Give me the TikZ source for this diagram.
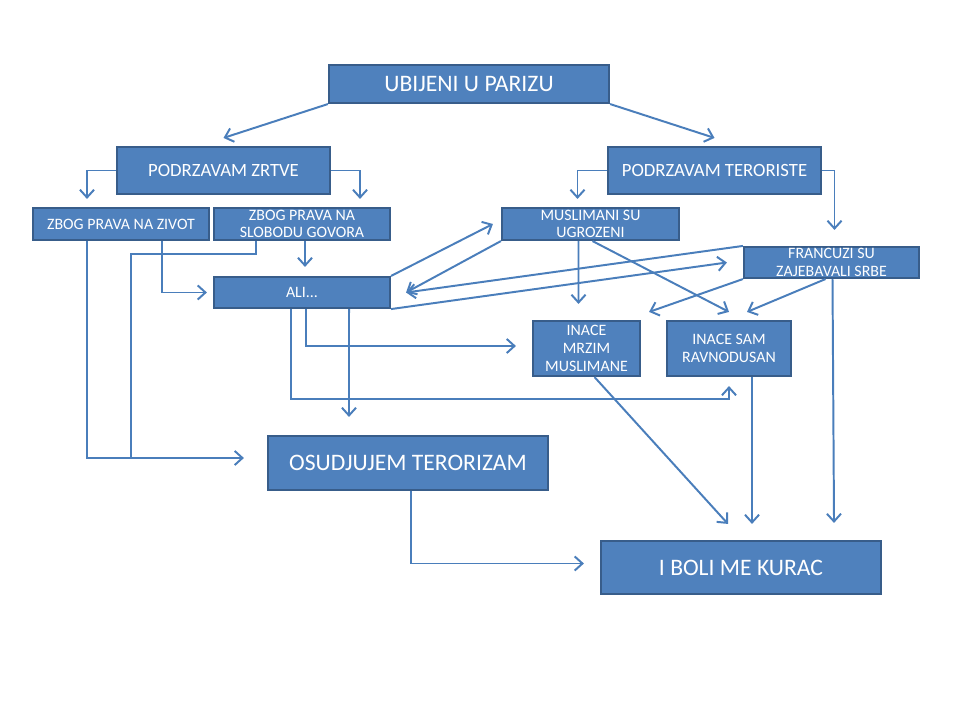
\documentclass[tikz,border=0pt]{standalone}
\usepackage{fontspec}
\setmainfont{Carlito}
\usepackage{tikz}
\usetikzlibrary{arrows.meta}
\usepackage{xcolor}
\definecolor{boxFill}{RGB}{79, 129, 189}
\definecolor{boxEdge}{RGB}{56, 93, 138}
\definecolor{linkLine}{RGB}{74, 126, 187}

\begin{document}
\begin{tikzpicture}[x=0.025cm, y=-0.025cm, >={Straight Barb[length=5.5pt, width=10pt]},
    box/.style={draw=boxEdge, line width=1.5pt, fill=boxFill, text=white, inner sep=0pt, align=center},
    bigbox/.style={box, minimum width=7cm, font=\fontsize{16.8}{18}\selectfont},
    midbox/.style={box, minimum width=5.325cm, minimum height=1.175cm, font=\fontsize{13.3}{14}\selectfont},
    smallbox/.style={box, minimum width=4.4cm, minimum height=0.8cm, font=\fontsize{11.3}{12.6}\selectfont},
    link/.style={draw=linkLine, line width=1.4pt},
    arr/.style={link, ->}]
  \useasboundingbox (0,0) rectangle (960,720);

  % boxes
  \node[bigbox, minimum height=0.95cm] (top) at (469, 84) {UBIJENI U PARIZU};
  \node[midbox] (zrtve) at (223.5, 170.5) {PODRZAVAM ZRTVE};
  \node[midbox] (teror) at (714.5, 170.5) {PODRZAVAM TERORISTE};

  \node[smallbox] (zivot) at (121, 224) {ZBOG PRAVA NA ZIVOT};
  \node[smallbox] (govor) at (302, 224) {ZBOG PRAVA NA\\SLOBODU GOVORA};
  \node[smallbox, minimum height=0.775cm] (ali) at (302, 292.5) {ALI...};
  \node[smallbox, minimum width=4.425cm] (musl) at (590.5, 224) {MUSLIMANI SU\\UGROZENI};
  \node[smallbox, minimum width=4.375cm, minimum height=0.775cm] (franc) at (831.5, 262.5) {FRANCUZI SU\\ZAJEBAVALI SRBE};

  \node[smallbox, minimum width=2.675cm, minimum height=1.375cm] (mrzim) at (586.5, 348.5) {INACE\\MRZIM\\MUSLIMANE};
  \node[smallbox, minimum width=3.1cm, minimum height=1.375cm] (ravno) at (729, 348.5) {INACE SAM\\RAVNODUSAN};

  \node[bigbox, minimum height=1.35cm] (osud) at (408, 463) {OSUDJUJEM TERORIZAM};
  \node[bigbox, minimum height=1.325cm] (boli) at (741, 567.5) {I BOLI ME KURAC};

  % top level
  \draw[arr] (top.south west) -- ([yshift=0.2cm]zrtve.north);
  \draw[arr] (top.south east) -- ([yshift=0.2cm]teror.north);
  \draw[arr] (zrtve.west) -| ([xshift=-0.85cm, yshift=0.2cm]zivot.north);
  \draw[arr] (zrtve.east) -| ([xshift=1.45cm, yshift=0.2cm]govor.north);
  \draw[arr] (teror.west) -| ([xshift=-0.325cm, yshift=0.2cm]musl.north);
  \draw[arr] (teror.east) -| ([xshift=0.075cm, yshift=0.4cm]franc.north);

  % victims side
  \coordinate (join) at (131, 458);
  \draw[arr] ([xshift=-0.85cm]zivot.south) |- ([xshift=-0.575cm, yshift=0.125cm]osud.west);
  \draw[arr] ([xshift=1.025cm]zivot.south) |- ([xshift=-0.15cm]ali.west);
  \draw[link] ([xshift=-1.15cm]govor.south) -- ++(0,13) -| (join);
  \draw[arr] ([xshift=0.075cm]govor.south) -- ([xshift=0.075cm, yshift=0.225cm]ali.north);

  \draw[arr] ([xshift=0.1cm]ali.south) |- ([xshift=-0.4cm, yshift=0.0625cm]mrzim.west);
  \draw[arr] ([xshift=-0.275cm]ali.south) |- ([yshift=-0.55cm]ravno.south) -- ([yshift=-0.225cm]ravno.south);
  \draw[arr] ([xshift=1.175cm]ali.south) -- ([xshift=-1.475cm, yshift=0.45cm]osud.north);

  % crossing links
  \draw[arr] (ali.north east) -- ([xshift=-0.2cm]musl.west);
  \draw[arr] (musl.south west) -- ([xshift=0.375cm]ali.east);
  \draw[arr] (franc.north west) -- ([xshift=0.375cm]ali.east);
  \draw[arr] (ali.south east) -- ([xshift=-0.4cm]franc.west);

  % terrorists side
  \draw[arr] ([xshift=-0.3cm]musl.south) -- ([xshift=-0.2cm, yshift=0.4cm]mrzim.north);
  \draw[arr] ([xshift=0.05cm]musl.south) -- ([yshift=0.2cm]ravno.north);
  \draw[arr] (franc.south west) -- ([xshift=0.2cm, yshift=0.2cm]mrzim.north east);
  \draw[arr] ([xshift=-0.15cm]franc.south) -- ([xshift=0.45cm, yshift=0.2cm]ravno.north);
  \draw[arr] ([xshift=0.025cm]franc.south) -- ([xshift=2.325cm, yshift=0.425cm]boli.north);

  % bottom
  \draw[arr] ([xshift=0.2cm]mrzim.south) -- ([xshift=-0.325cm, yshift=0.4cm]boli.north);
  \draw[arr] ([xshift=0.575cm]ravno.south) -- ([xshift=0.275cm, yshift=0.4cm]boli.north);
  \draw[arr] ([xshift=0.075cm]osud.south) |- ([xshift=-0.4cm, yshift=0.1cm]boli.west);
\end{tikzpicture}
\end{document}
